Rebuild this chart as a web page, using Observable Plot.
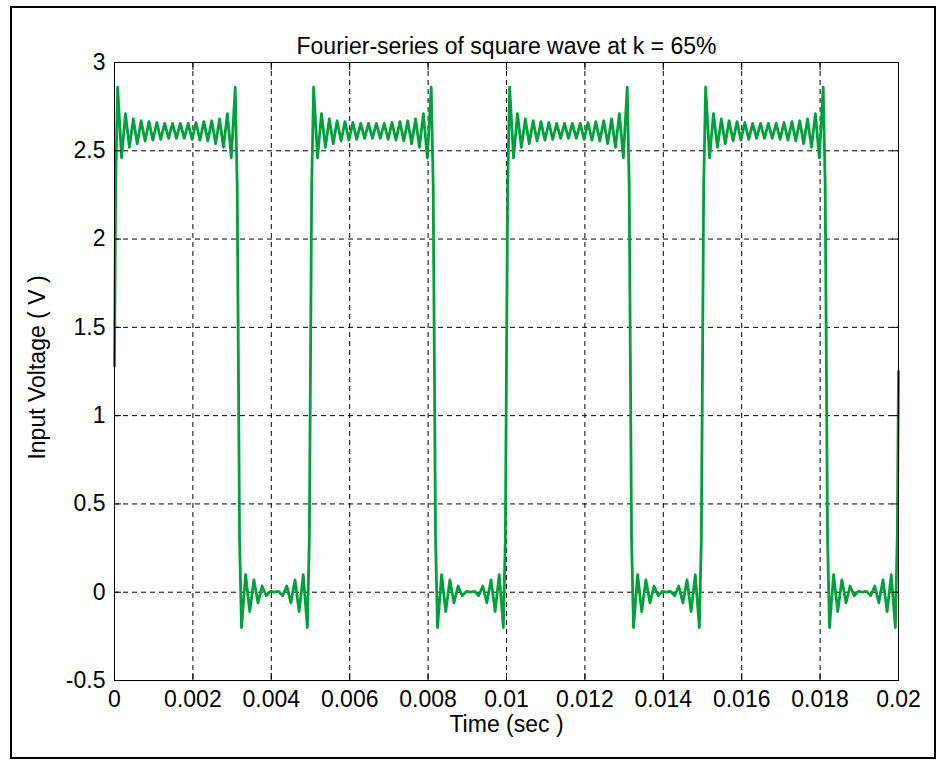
<!DOCTYPE html>
<html>
<head>
<meta charset="utf-8">
<script src="https://cdn.jsdelivr.net/npm/d3@7"></script>
<script src="https://cdn.jsdelivr.net/npm/@observablehq/plot@0.6"></script>
<style>
  html, body { margin: 0; padding: 0; background: #fff; }
  #wrap { position: relative; width: 942px; height: 763px; overflow: hidden; }
  #border { position: absolute; left: 10px; top: 6px; width: 926px; height: 753px; box-sizing: border-box; border: 2px solid #000; pointer-events: none; }
</style>
</head>
<body>
<div id="wrap"><div id="border"></div></div>
<script>
// ---- chart text ----
const titleText = "Fourier-series of square wave at k = 65%";
const xLabelText = "Time (sec )";
const yLabelText = "Input Voltage ( V )";

// ---- ticks ----
const xTickValues = [0, 0.002, 0.004, 0.006, 0.008, 0.01, 0.012, 0.014, 0.016, 0.018, 0.02];
const xTickLabels = ["0", "0.002", "0.004", "0.006", "0.008", "0.01", "0.012", "0.014", "0.016", "0.018", "0.02"];
const yTickValues = [-0.5, 0, 0.5, 1, 1.5, 2, 2.5, 3];
const yTickLabels = ["-0.5", "0", "0.5", "1", "1.5", "2", "2.5", "3"];

// ---- waveform ----
// start time of each of the four cycles, in ms
const cycleStartMs = [0, 5, 10, 15];
// sample instants inside one cycle (ms after the rising edge)
const sampleOffsetMs = [
  0.00, 0.03,
  0.08, 0.18, 0.28, 0.38, 0.48, 0.58, 0.68, 0.78, 0.88, 0.98, 1.08, 1.18, 1.28, 1.38, 1.48,
  1.58, 1.68, 1.78, 1.88, 1.98, 2.08, 2.18, 2.28, 2.38, 2.48, 2.58, 2.68, 2.78, 2.88, 2.98, 3.08,
  3.13, 3.16, 3.19,
  3.240, 3.345, 3.450, 3.555, 3.660, 3.765, 3.870, 3.975, 4.080,
  4.185, 4.290, 4.395, 4.500, 4.605, 4.710, 4.815, 4.920,
  4.97
];
// voltage at those instants, one row per cycle
const cycle1Volts = [
  1.28, 2.30,
  2.86, 2.46, 2.71, 2.52, 2.68, 2.54, 2.67, 2.555, 2.665, 2.56, 2.66, 2.565, 2.655, 2.57, 2.655,
  2.57, 2.655, 2.57, 2.655, 2.565, 2.66, 2.56, 2.665, 2.555, 2.67, 2.54, 2.68, 2.52, 2.71, 2.46, 2.86,
  2.30, 1.30, 0.30,
  -0.20, 0.10, -0.11, 0.07, -0.06, 0.035, -0.02, 0.005, 0.0,
  0.005, -0.02, 0.035, -0.06, 0.07, -0.11, 0.10, -0.20,
  0.30
];
const cycle2Volts = [
  1.30, 2.30,
  2.86, 2.46, 2.71, 2.52, 2.68, 2.54, 2.67, 2.555, 2.665, 2.56, 2.66, 2.565, 2.655, 2.57, 2.655,
  2.57, 2.655, 2.57, 2.655, 2.565, 2.66, 2.56, 2.665, 2.555, 2.67, 2.54, 2.68, 2.52, 2.71, 2.46, 2.86,
  2.30, 1.30, 0.30,
  -0.20, 0.10, -0.11, 0.07, -0.06, 0.035, -0.02, 0.005, 0.0,
  0.005, -0.02, 0.035, -0.06, 0.07, -0.11, 0.10, -0.20,
  0.30
];
const cycle3Volts = [
  1.30, 2.30,
  2.86, 2.46, 2.71, 2.52, 2.68, 2.54, 2.67, 2.555, 2.665, 2.56, 2.66, 2.565, 2.655, 2.57, 2.655,
  2.57, 2.655, 2.57, 2.655, 2.565, 2.66, 2.56, 2.665, 2.555, 2.67, 2.54, 2.68, 2.52, 2.71, 2.46, 2.86,
  2.30, 1.30, 0.30,
  -0.20, 0.10, -0.11, 0.07, -0.06, 0.035, -0.02, 0.005, 0.0,
  0.005, -0.02, 0.035, -0.06, 0.07, -0.11, 0.10, -0.20,
  0.30
];
const cycle4Volts = [
  1.30, 2.30,
  2.86, 2.46, 2.71, 2.52, 2.68, 2.54, 2.67, 2.555, 2.665, 2.56, 2.66, 2.565, 2.655, 2.57, 2.655,
  2.57, 2.655, 2.57, 2.655, 2.565, 2.66, 2.56, 2.665, 2.555, 2.67, 2.54, 2.68, 2.52, 2.71, 2.46, 2.86,
  2.30, 1.30, 0.30,
  -0.20, 0.10, -0.11, 0.07, -0.06, 0.035, -0.02, 0.005, 0.0,
  0.005, -0.02, 0.035, -0.06, 0.07, -0.11, 0.10, -0.20,
  0.33
];
const cycleVolts = [cycle1Volts, cycle2Volts, cycle3Volts, cycle4Volts];
// last sample of the trace
const endTimeMs = 20;
const endVolt = 1.25;

// ---- build the table ----
const trace = [];
cycleStartMs.forEach((start, c) => {
  sampleOffsetMs.forEach((off, i) => {
    trace.push({t: (start + off) / 1000, v: cycleVolts[c][i]});
  });
});
trace.push({t: endTimeMs / 1000, v: endVolt});

const xFmt = d => xTickLabels[xTickValues.findIndex(x => Math.abs(x - d) < 1e-9)];
const yFmt = d => yTickLabels[yTickValues.findIndex(y => Math.abs(y - d) < 1e-9)];
const blank = () => "";

const FONT = "'Liberation Sans', Arial, Helvetica, sans-serif";
const FS = 23;

const chart = Plot.plot({
  width: 942,
  height: 763,
  marginLeft: 114,
  marginRight: 44,
  marginTop: 62,
  marginBottom: 83,
  style: {fontFamily: FONT, fontSize: FS + "px", background: "transparent", color: "#000", overflow: "visible"},
  x: {domain: [0, 0.02], label: null},
  y: {domain: [-0.5, 3], label: null},
  marks: [
    Plot.gridX(xTickValues, {stroke: "#000", strokeOpacity: 1, strokeWidth: 1, strokeDasharray: "5,4"}),
    Plot.gridY(yTickValues, {stroke: "#000", strokeOpacity: 1, strokeWidth: 1, strokeDasharray: "5,4"}),
    Plot.line(trace, {x: "t", y: "v", stroke: "#00a13a", strokeWidth: 2.8, strokeLinejoin: "round"}),
    Plot.frame({stroke: "#000", strokeWidth: 1}),
    Plot.axisX(xTickValues, {anchor: "bottom", tickSize: -7, tickPadding: 17, tickFormat: xFmt, fontSize: FS, label: null}),
    Plot.axisX(xTickValues, {anchor: "top", tickSize: -7, tickFormat: blank, label: null}),
    Plot.axisY(yTickValues, {anchor: "left", tickSize: -7, tickPadding: 16, tickFormat: yFmt, fontSize: FS, label: null}),
    Plot.axisY(yTickValues, {anchor: "right", tickSize: -7, tickFormat: blank, label: null}),
    Plot.text([titleText], {frameAnchor: "top", dy: -25, text: d => d, fontSize: FS, fill: "#000"}),
    Plot.text([xLabelText], {frameAnchor: "bottom", dy: 51, text: d => d, fontSize: FS, fill: "#000"}),
    Plot.text([yLabelText], {frameAnchor: "left", textAnchor: "middle", dx: -77, dy: -4, rotate: -90, text: d => d, fontSize: FS, fill: "#000"})
  ]
});
document.getElementById("wrap").prepend(chart);
</script>
</body>
</html>
